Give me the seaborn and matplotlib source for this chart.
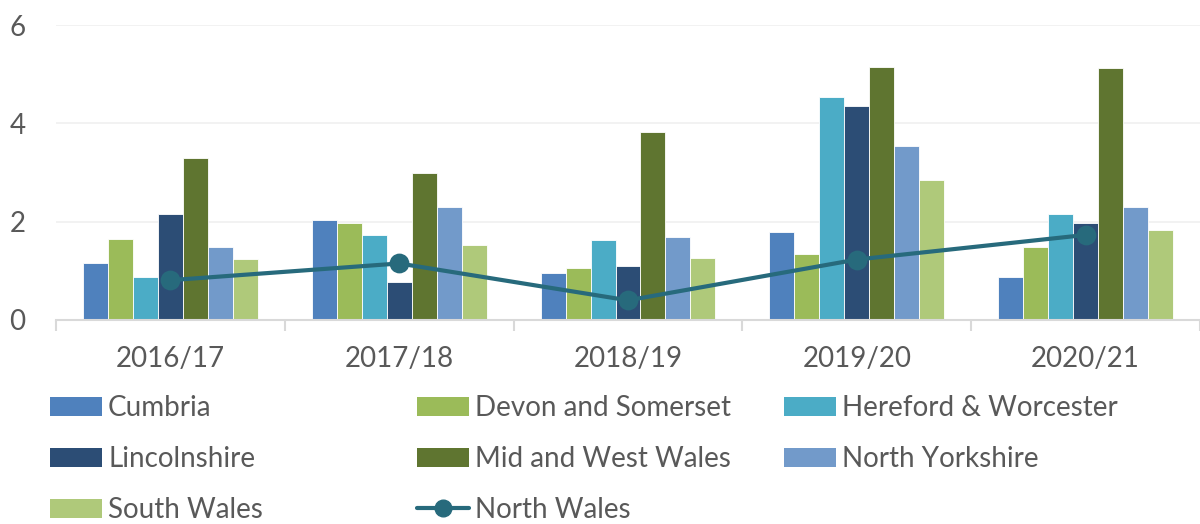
import matplotlib
matplotlib.use("Agg")
import matplotlib.pyplot as plt
import seaborn as sns
import pandas as pd
import numpy as np
from matplotlib.lines import Line2D
from matplotlib.patches import Patch

years = ["2016/17", "2017/18", "2018/19", "2019/20", "2020/21"]
cumbria = [1.16, 2.03, 0.96, 1.79, 0.88]
devon_and_somerset = [1.65, 1.98, 1.05, 1.35, 1.48]
hereford_worcester = [0.87, 1.72, 1.63, 4.54, 2.15]
lincolnshire = [2.16, 0.78, 1.09, 4.36, 1.98]
mid_and_west_wales = [3.29, 2.99, 3.83, 5.14, 5.12]
north_yorkshire = [1.48, 2.29, 1.69, 3.53, 2.30]
south_wales = [1.24, 1.52, 1.26, 2.85, 1.84]
north_wales = [0.81, 1.15, 0.40, 1.23, 1.73]

bar_series = {
    "Cumbria": cumbria,
    "Devon and Somerset": devon_and_somerset,
    "Hereford & Worcester": hereford_worcester,
    "Lincolnshire": lincolnshire,
    "Mid and West Wales": mid_and_west_wales,
    "North Yorkshire": north_yorkshire,
    "South Wales": south_wales,
}
colors = {
    "Cumbria": "#4F81BD",
    "Devon and Somerset": "#9BBB59",
    "Hereford & Worcester": "#4BACC6",
    "Lincolnshire": "#2C4D75",
    "Mid and West Wales": "#5F7530",
    "North Yorkshire": "#729ACA",
    "South Wales": "#AFC97A",
}
line_color = "#276A7C"

rows = []
for name, vals in bar_series.items():
    for y, v in zip(years, vals):
        rows.append({"Year": y, "Force": name, "Value": v})
df = pd.DataFrame(rows)

sns.set_theme(style="white")
plt.rcParams["font.family"] = ["Lato", "DejaVu Sans"]
text_color = "#595959"
fs = 20

fig = plt.figure(figsize=(12, 5.24), dpi=100)
ax = fig.add_axes([56 / 1200, 1 - 320 / 524, 1 - 56 / 1200, (320 - 25) / 524])

sns.barplot(data=df, x="Year", y="Value", hue="Force", order=years,
            hue_order=list(bar_series.keys()), palette=colors, width=0.764,
            ax=ax, legend=False, edgecolor="white", linewidth=0.6, saturation=1)
sns.pointplot(x=years, y=north_wales, ax=ax, color=line_color,
              markers="o", linestyles="-", markersize=12, linewidth=3)

ax.set_xlim(-0.5, 4.5)
ax.set_ylim(0, 6)
ax.set_yticks([0, 2, 4, 6])
ax.set_xlabel("")
ax.set_ylabel("")
ax.grid(axis="y", color="#F0F0F0", linewidth=1.2)
ax.set_axisbelow(True)
for s in ["top", "right", "left"]:
    ax.spines[s].set_visible(False)
ax.spines["bottom"].set_color("#D9D9D9")
ax.spines["bottom"].set_linewidth(1.5)
ax.tick_params(axis="y", length=0, pad=22, labelsize=fs, labelcolor=text_color)
ax.tick_params(axis="x", which="major", length=0, pad=19, labelsize=fs, labelcolor=text_color)
ax.set_xticks(np.arange(-0.5, 5.0, 1.0), minor=True)
ax.tick_params(axis="x", which="minor", length=8, width=1.5, color="#D9D9D9", bottom=True)

def make_legend(handles, labels, x_px):
    leg = fig.legend(handles, labels, loc="upper left",
                     bbox_to_anchor=(x_px / 1200, 1 - 395 / 524),
                     frameon=False, fontsize=fs, handlelength=1.87,
                     handleheight=0.65, handletextpad=0.22, labelspacing=0.9,
                     borderpad=0, borderaxespad=0)
    for t in leg.get_texts():
        t.set_color(text_color)
    return leg

def patch(name):
    return Patch(facecolor=colors[name], edgecolor="none")

nw_handle = Line2D([], [], color=line_color, lw=3, marker="o", markersize=12)
make_legend([patch("Cumbria"), patch("Lincolnshire"), patch("South Wales")],
            ["Cumbria", "Lincolnshire", "South Wales"], 50)
make_legend([patch("Devon and Somerset"), patch("Mid and West Wales"), nw_handle],
            ["Devon and Somerset", "Mid and West Wales", "North Wales"], 417)
make_legend([patch("Hereford & Worcester"), patch("North Yorkshire")],
            ["Hereford & Worcester", "North Yorkshire"], 784)

fig.savefig("out.png", dpi=100, facecolor="white")
